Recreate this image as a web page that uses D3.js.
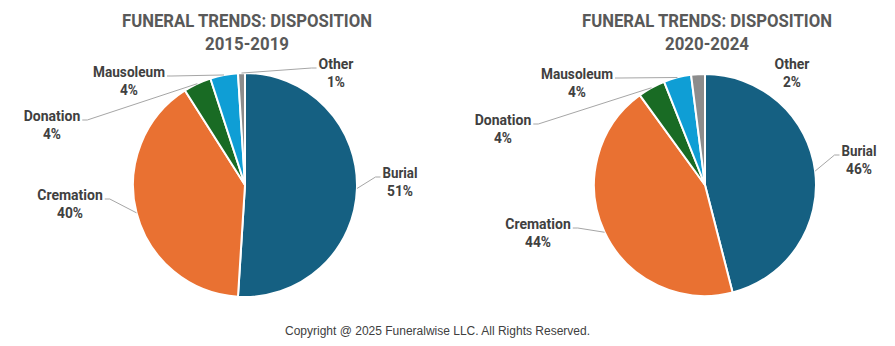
<!DOCTYPE html>
<html><head><meta charset="utf-8">
<script src="https://cdn.jsdelivr.net/npm/d3@7"></script>
<style>
html,body{margin:0;padding:0;background:#fff;}
svg{display:block;}
</style></head>
<body>
<svg id="chart" width="895" height="346"></svg>
<script>
// ---- data ----
const categories = ["Burial", "Cremation", "Donation", "Mausoleum", "Other"];
const values2015_2019 = [51, 40, 4, 4, 1];
const values2020_2024 = [46, 44, 4, 4, 2];
const periods = ["2015-2019", "2020-2024"];
const titleText = "FUNERAL TRENDS: DISPOSITION";
const copyrightText = "Copyright @ 2025 Funeralwise LLC. All Rights Reserved.";

// ---- styles / layout ----
const colors = ["#156082", "#E97132", "#196B24", "#0F9ED5", "#8C8C8C"];
// label offsets: [center x offset, name baseline offset] relative to pie centre
const pies = [
  { values: values2015_2019, period: periods[0], cx: 245, cy: 185, r: 112,
    labelOffsets: [[155, -7], [-175, 15], [-193, -64], [-116, -108], [91, -116]],
    showLine: [true, true, true, true, true] },
  { values: values2020_2024, period: periods[1], cx: 705, cy: 185, r: 111,
    labelOffsets: [[154, -29], [-167, 44], [-202, -60], [-128, -106], [87, -116]],
    showLine: [true, true, true, true, false] }
];
const nameWidths = { Burial: 35, Cremation: 66, Donation: 57, Mausoleum: 72, Other: 35 };

const svg = d3.select("#chart");
const labelFont = "Roboto,'Liberation Sans',sans-serif";

function fitText(sel, target) {
  const w = sel.node().getComputedTextLength();
  if (w > target) sel.attr("textLength", target).attr("lengthAdjust", "spacingAndGlyphs");
  return Math.min(w, target);
}

pies.forEach(p => {
  const g = svg.append("g");
  const data = categories.map((c, i) => ({ name: c, value: p.values[i], i }));
  const pie = d3.pie().value(d => d.value).sort(null);
  const arcs = pie(data);
  const arc = d3.arc().innerRadius(0).outerRadius(p.r);

  const pg = g.append("g").attr("transform", `translate(${p.cx},${p.cy})`);
  pg.selectAll("path").data(arcs).enter().append("path")
    .attr("d", arc)
    .attr("fill", d => colors[d.data.i])
    .attr("stroke", "#fff")
    .attr("stroke-width", 2)
    .attr("stroke-linejoin", "round");

  // titles
  const t1 = g.append("text")
    .attr("x", p.cx + 2).attr("y", 26.5)
    .attr("text-anchor", "middle")
    .attr("font-family", labelFont)
    .attr("font-weight", "bold")
    .attr("font-size", 18.5)
    .attr("fill", "#595959")
    .text(titleText);
  fitText(t1, 250);
  const t2 = g.append("text")
    .attr("x", p.cx + 2).attr("y", 50)
    .attr("text-anchor", "middle")
    .attr("font-family", labelFont)
    .attr("font-weight", "bold")
    .attr("font-size", 18.5)
    .attr("fill", "#595959")
    .text(p.period);
  fitText(t2, 84);

  // labels and leader lines
  arcs.forEach(a => {
    const i = a.data.i;
    const [ox, oy] = p.labelOffsets[i];
    const lx = p.cx + ox, ly = p.cy + oy;
    const nameT = g.append("text")
      .attr("x", lx).attr("y", ly)
      .attr("text-anchor", "middle")
      .attr("font-family", labelFont)
      .attr("font-weight", "bold")
      .attr("font-size", 14)
      .attr("fill", "#404040")
      .text(a.data.name);
    const w = fitText(nameT, nameWidths[a.data.name]);
    const pctT = g.append("text")
      .attr("x", lx).attr("y", ly + 18)
      .attr("text-anchor", "middle")
      .attr("font-family", labelFont)
      .attr("font-weight", "bold")
      .attr("font-size", 14)
      .attr("fill", "#404040")
      .text(a.data.value + "%");
    fitText(pctT, a.data.value >= 10 ? 26 : 18);

    if (p.showLine[i]) {
      const mid = (a.startAngle + a.endAngle) / 2;
      const tx = p.cx + p.r * Math.sin(mid);
      const ty = p.cy - p.r * Math.cos(mid);
      const leftSide = tx < lx;
      const sx = leftSide ? lx - w / 2 - 2 : lx + w / 2 + 2;
      const sy = ly - 1;
      const hx = leftSide ? sx - 5 : sx + 5;
      g.append("path")
        .attr("d", `M${sx},${sy}L${hx},${sy}L${tx},${ty}`)
        .attr("fill", "none")
        .attr("stroke", "#A6A6A6")
        .attr("stroke-width", 1);
    }
  });
});

svg.append("text")
  .attr("x", 437.5).attr("y", 335)
  .attr("text-anchor", "middle")
  .attr("font-family", "'Liberation Sans',Arial,sans-serif")
  .attr("font-size", 12)
  .attr("fill", "#404040")
  .text(copyrightText);
</script>
</body></html>
